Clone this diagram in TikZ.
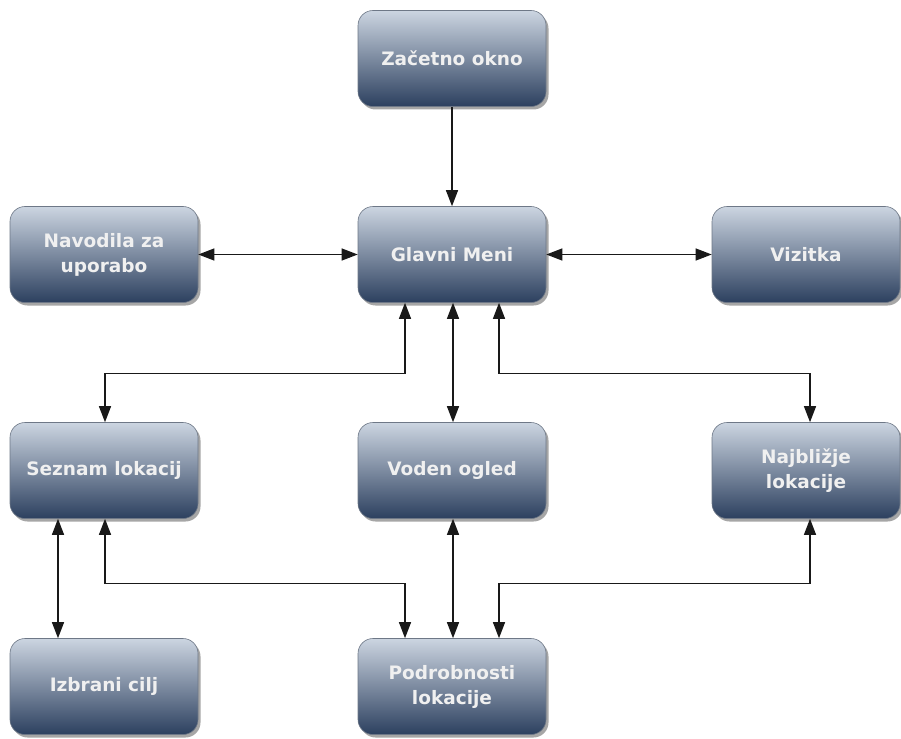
\documentclass[tikz,border=0pt]{standalone}
\usepackage{fontspec}
\setmainfont{DejaVu Sans}
\usetikzlibrary{shadows,arrows.meta}
\definecolor{boxtop}{RGB}{204,213,225}
\definecolor{boxbot}{RGB}{44,64,95}
\definecolor{boxedge}{RGB}{110,120,135}
\definecolor{boxtext}{RGB}{240,240,240}
\definecolor{linecol}{RGB}{25,25,25}
\begin{document}
\begin{tikzpicture}[x=1pt,y=-1pt,
  box/.style={rounded corners=15pt, minimum width=188pt, minimum height=96pt,
    draw=boxedge, line width=0.6pt, top color=boxtop, bottom color=boxbot,
    drop shadow={shadow xshift=2.5pt,shadow yshift=-3pt,opacity=0.35,fill=black},
    font=\bfseries\fontsize{18.5}{25}\selectfont, text=boxtext, align=center, inner sep=0pt},
  tip/.tip={Triangle[length=16pt,width=12pt]},
  link/.style={draw=linecol, line width=1.2pt, -tip},
  both/.style={draw=linecol, line width=1.2pt, tip-tip}]
\useasboundingbox (0,0) rectangle (901,738);
\fill[white] (0,0) rectangle (901,738);

% boxes
\node[box] (zac)  at (452,58.5)  {Začetno okno};
\node[box] (nav)  at (104,254.5) {Navodila za\\uporabo};
\node[box] (glav) at (452,254.5) {Glavni Meni};
\node[box] (viz)  at (806,254.5) {Vizitka};
\node[box] (sez)  at (104,470.5) {Seznam lokacij};
\node[box] (vod)  at (452,470.5) {Voden ogled};
\node[box] (naj)  at (806,470.5) {Najbližje\\lokacije};
\node[box] (izb)  at (104,686.5) {Izbrani cilj};
\node[box] (pod)  at (452,686.5) {Podrobnosti\\lokacije};

% connectors
\draw[link] (zac.south) -- (glav.north);
\draw[both] (nav.east) -- (glav.west);
\draw[both] (glav.east) -- (viz.west);
\draw[both] ([xshift=-47pt]glav.south) -- ++(0,70.5) -| ([xshift=1pt]sez.north);
\draw[both] ([xshift=1pt]glav.south) -- ([xshift=1pt]vod.north);
\draw[both] ([xshift=47pt]glav.south) -- ++(0,70.5) -| ([xshift=4pt]naj.north);
\draw[both] ([xshift=-46pt]sez.south) -- ([xshift=-46pt]izb.north);
\draw[both] ([xshift=1pt]sez.south) -- ++(0,65) -| ([xshift=-47pt]pod.north);
\draw[both] ([xshift=1pt]vod.south) -- ([xshift=1pt]pod.north);
\draw[both] ([xshift=4pt]naj.south) -- ++(0,65) -| ([xshift=47pt]pod.north);
\end{tikzpicture}
\end{document}
